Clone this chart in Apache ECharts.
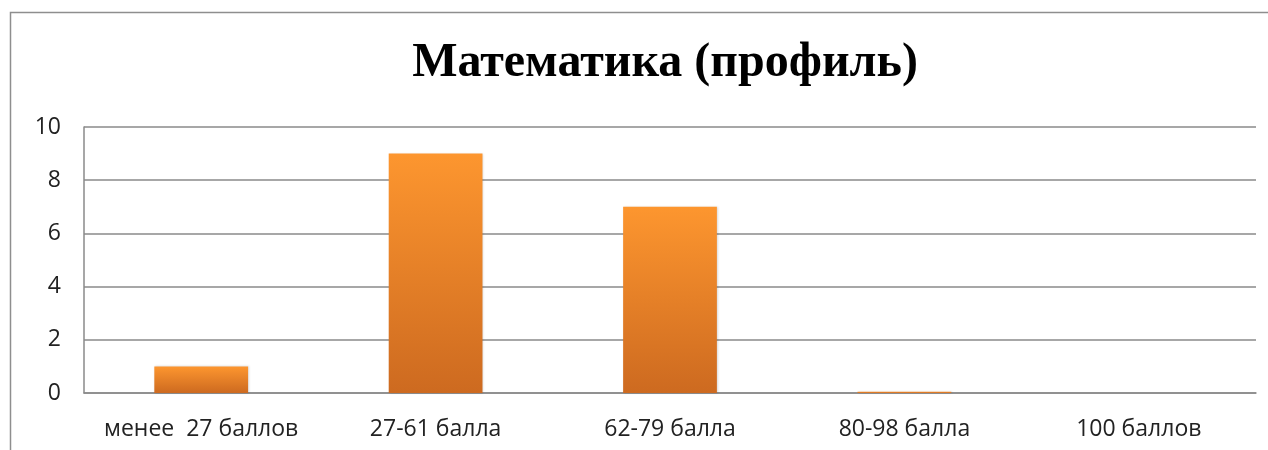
<!DOCTYPE html>
<html>
<head>
<meta charset="utf-8">
<script src="https://cdn.jsdelivr.net/npm/echarts@6/dist/echarts.min.js"></script>
<style>
	html, body { margin: 0; padding: 0; background: #fff; }
	#chart { width: 1268px; height: 450px; }
</style>
</head>
<body>
<div id="chart"></div>
<script>
// данные
var categories = ["менее  27 баллов", "27-61 балла", "62-79 балла", "80-98 балла", "100 баллов"];
var values = [1, 9, 7, 0.05, 0];
var yTicks = [0, 2, 4, 6, 8, 10];

(function () {
	var myChart = echarts.init(document.getElementById("chart"));
	var option = {
		animation: false,
		title: {
			text: "Математика (профиль)",
			left: 660,
			textAlign: "center",
			top: 35,
			textStyle: {
				fontFamily: "Liberation Serif",
				fontWeight: "bold",
				fontSize: 48,
				color: "#000"
			}
		},
		// внешняя рамка
		graphic: [
			{
				type: "rect",
				shape: { x: 10.5, y: 12.5, width: 1400, height: 600 },
				style: { fill: "none", stroke: "#8e8e8e", lineWidth: 1.5 },
				silent: true
			}
		],
		grid: {
			left: 84,
			right: 12,
			top: 127,
			bottom: 57
		},
		xAxis: {
			type: "category",
			data: categories,
			axisTick: { show: false },
			axisLine: { lineStyle: { color: "#8a8a8a", width: 1.5 } },
			axisLabel: {
				interval: 0,
				color: "#222",
				fontFamily: "Open Sans",
				fontSize: 23,
				margin: 25
			}
		},
		yAxis: {
			type: "value",
			min: yTicks[0],
			max: yTicks[yTicks.length - 1],
			interval: 2,
			axisLine: { show: true, lineStyle: { color: "#8a8a8a", width: 1.5 } },
			axisTick: { show: false },
			axisLabel: {
				color: "#222",
				fontFamily: "Open Sans",
				fontSize: 23,
				margin: 23
			},
			splitLine: { lineStyle: { color: "#8a8a8a", width: 1.5 } }
		},
		series: [
			{
				type: "bar",
				data: values,
				barWidth: "40%",
				itemStyle: {
					color: new echarts.graphic.LinearGradient(0, 0, 0, 1, [
						{ offset: 0, color: "#fd962f" },
						{ offset: 1, color: "#cd6a20" }
					]),
					shadowColor: "rgba(0,0,0,0.15)",
					shadowBlur: 2,
					shadowOffsetX: 1
				}
			}
		]
	};
	myChart.setOption(option);
	window.addEventListener("resize", function () {
		myChart.resize();
	});
})();
</script>
</body>
</html>
